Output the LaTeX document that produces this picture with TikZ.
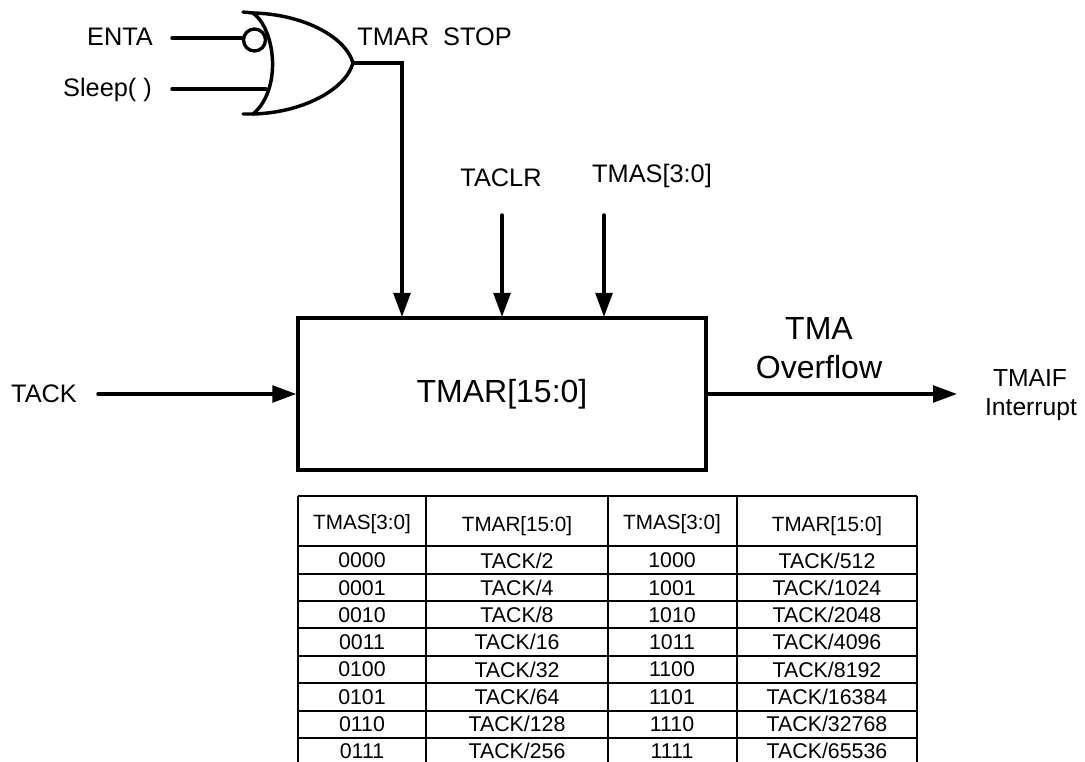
\documentclass[tikz,border=0pt]{standalone}
\usepackage{fontspec}
\setmainfont{Liberation Sans}
\usetikzlibrary{arrows.meta}
\tikzset{
  wire/.style={line width=2.6pt,line cap=round,line join=miter},
  sig/.style={wire,-{Triangle[length=18pt,width=12.5pt]}},
  lab/.style={font=\fontsize{19}{22}\selectfont,inner sep=0pt,anchor=center},
  small/.style={font=\fontsize{18.5}{22}\selectfont,inner sep=0pt,anchor=center},
  big/.style={font=\fontsize{24}{28}\selectfont,inner sep=0pt,anchor=center},
  cell/.style={font=\fontsize{16}{18}\selectfont,inner sep=0pt,anchor=center},
  hcell/.style={font=\fontsize{15.5}{18}\selectfont,inner sep=0pt,anchor=center},
  grid/.style={line width=1pt,black}
}
\begin{document}
\begin{tikzpicture}[x=0.75pt,y=-0.75pt]
\useasboundingbox (0,0) rectangle (1085,762);
% labels
\node[lab] (enta) at (120,37) {ENTA};
\node[lab] (sleep) at (107.5,90) {Sleep( )};
\node[lab] (stop) at (434.5,37) {TMAR\ \ STOP};
\node[lab] (taclr) at (501,178) {TACLR};
\node[lab] (tmas) at (652,176) {TMAS[3:0]};
\node[lab] (tack) at (44,394) {TACK};
\node[big] (tma) at (819,328) {TMA};
\node[big] (ovf) at (819,367) {Overflow};
\node[small] (tmaif) at (1030,378) {TMAIF};
\node[small] (intr) at (1031,410) {Interrupt};
% box
\node[draw,line width=2.5pt,minimum width=306pt,minimum height=114pt,inner sep=0pt,big] (tmar) at (502,394) {\raisebox{-2pt}{TMAR[15:0]}};
% gate
\coordinate (g1) at (172,38);
\coordinate (g2) at (172,89);
\coordinate (gtop) at (253,13);
\coordinate (gbot) at (253,114);
\coordinate (gout) at (353,63);
\coordinate (bub) at (254.5,40);
\coordinate (o1) at (402,63);
\coordinate (a1) at (502,215);
\coordinate (a2) at (604,215);
\coordinate (a3) at (98,394);
\coordinate (a4) at (957,394);
\draw[wire] (243,12) -- (gtop) .. controls (276,30) and (282,90) .. (gbot) -- (243,114);
\draw[wire] (gtop) .. controls (300,14) and (345,35) .. (gout) .. controls (345,91) and (300,113) .. (gbot);
\node[draw,circle,line width=2.5pt,minimum size=16.5pt,inner sep=0pt] (bubble) at (bub) {};
\draw[wire] (g1) -- (g1 -| bubble.west);
\draw[wire] (g2) -- (266,89);
% connectors
\draw[sig] (gout) -- (o1) -- (402,317);
\draw[sig] (a1) -- (502,317);
\draw[sig] (a2) -- (604,317);
\draw[sig] (a3) -- (tmar.west);
\draw[sig] (tmar.east) -- (a4);
% table
\draw[grid] (298,496) -- (917,496);
\foreach \y in {546,574,601,628,656,683,711,738} \draw[grid] (298,\y) -- (917,\y);
\foreach \x in {298,426,737,917} \draw[grid] (\x,496) -- (\x,762);
\draw[line width=1.5pt] (608,496) -- (608,762);
\node[hcell] (h1) at (362,524) {TMAS[3:0]};
\node[hcell] (h2) at (517,526) {TMAR[15:0]};
\node[hcell] (h3) at (672,524) {TMAS[3:0]};
\node[hcell] (h4) at (827,526) {TMAR[15:0]};
\foreach \i/\a/\b/\c/\d in {0/0000/2/1000/512,1/0001/4/1001/1024,2/0010/8/1010/2048,3/0011/16/1011/4096,4/0100/32/1100/8192,5/0101/64/1101/16384,6/0110/128/1110/32768,7/0111/256/1111/65536}{
  \pgfmathsetmacro{\yy}{560.5+\i*27.25}
  \node[cell] (a\i) at (362,\yy) {\a};
  \node[cell] (b\i) at (517,\yy) {TACK/\b};
  \node[cell] (c\i) at (672,\yy) {\c};
  \node[cell] (d\i) at (827,\yy) {TACK/\d};
}
\end{tikzpicture}
\end{document}
